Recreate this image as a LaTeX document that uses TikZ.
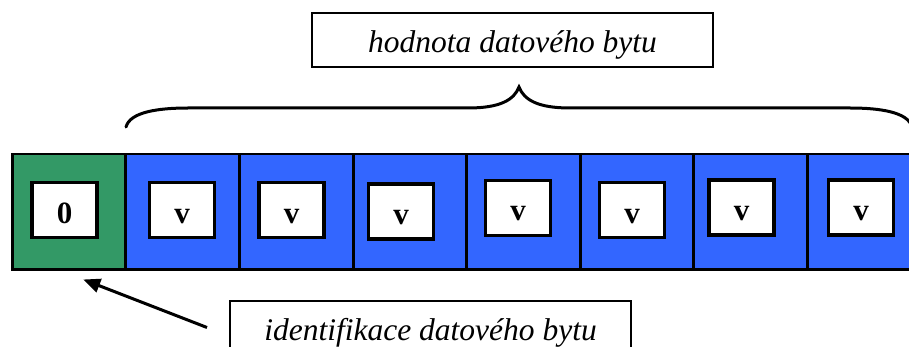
\documentclass[tikz,border=0pt]{standalone}
\usepackage{fontspec}
\setmainfont{Liberation Serif}
\usetikzlibrary{arrows.meta}
\definecolor{cellgreen}{HTML}{339966}
\definecolor{cellblue}{HTML}{3366FF}
\begin{document}
\begin{tikzpicture}[x=1pt,y=-1pt,
  cellbox/.style={draw=black,line width=2.5pt,minimum height=115pt,inner sep=0pt,anchor=north west},
  valbox/.style={draw=black,fill=white,line width=3.5pt,minimum width=65pt,minimum height=55pt,inner sep=0pt,
    font=\fontsize{31}{34}\selectfont\bfseries,text height=26pt,text depth=0pt},
  lblbox/.style={draw=black,line width=2pt,minimum width=401pt,minimum height=54pt,inner sep=0pt,
    font=\fontsize{31.5}{36}\selectfont\itshape,text height=25pt,text depth=0pt},
  bracestyle/.style={draw=black,line width=3pt,line cap=round},
  arrowstyle/.style={draw=black,line width=3pt,-{Triangle[length=17pt,width=14pt]}}]
\useasboundingbox (0,0) rectangle (909,347);
\clip (0,0) rectangle (909,347);
% strip cells
\node[cellbox,fill=cellgreen,minimum width=113pt] (c0) at (11,153) {};
\node[cellbox,fill=cellblue,minimum width=114pt] (c1) at (124,153) {};
\node[cellbox,fill=cellblue,minimum width=114pt] (c2) at (238,153) {};
\node[cellbox,fill=cellblue,minimum width=113pt] (c3) at (352,153) {};
\node[cellbox,fill=cellblue,minimum width=114pt] (c4) at (465,153) {};
\node[cellbox,fill=cellblue,minimum width=113pt] (c5) at (579,153) {};
\node[cellbox,fill=cellblue,minimum width=114pt] (c6) at (692,153) {};
\node[cellbox,fill=cellblue,minimum width=120pt] (c7) at (806,153) {};
% value boxes
\node[valbox] (b0) at (64.5,210) {0};
\node[valbox] (b1) at (182,210) {v};
\node[valbox] (b2) at (291.5,210) {v};
\node[valbox] (b3) at (401,211.5) {v};
\node[valbox] (b4) at (518,208) {v};
\node[valbox] (b5) at (632,210) {v};
\node[valbox] (b6) at (741.5,207.5) {v};
\node[valbox] (b7) at (861,207.5) {v};
% labels
\node[lblbox] (l1) at (512.5,40.5) {hodnota datového bytu};
\node[lblbox] (l2) at (430.5,327.5) {identifikace datového bytu};
% brace
\draw[bracestyle] (126,127) .. controls (130,112) and (158,108) .. (188,108)
  -- (468,108) .. controls (500,108) and (514,100) .. (519,87)
  .. controls (524,100) and (538,108) .. (570,108)
  -- (850,108) .. controls (880,108) and (908,112) .. (912,127);
% arrow
\draw[arrowstyle] ([xshift=-22pt]l2.west) -- ([xshift=14.5pt,yshift=-9pt]c0.south);
\end{tikzpicture}
\end{document}
